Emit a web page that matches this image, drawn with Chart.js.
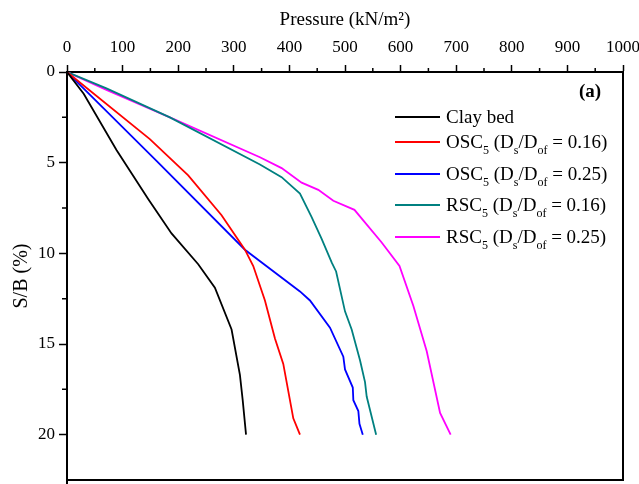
<!DOCTYPE html>
<html><head><meta charset="utf-8">
<script src="https://cdn.jsdelivr.net/npm/chart.js@4.4.1/dist/chart.umd.min.js"></script>
<style>html,body{margin:0;padding:0;background:#fff;}#wrap{width:639px;height:484px;}</style>
</head><body><div id="wrap"><canvas id="c" width="639" height="484"></canvas></div>
<script>
// ---- data (Pressure kN/m2 vs S/B %) ----
const xTickValues = [0,100,200,300,400,500,600,700,800,900,1000];
const xMinorTicks = [50,150,250,350,450,550,650,750,850,950];
const yTickValues = [0,5,10,15,20];
const yMinorTicks = [2.5,7.5,12.5,17.5];

const seriesNames = ["Clay bed","OSC5 (Ds/Dof = 0.16)","OSC5 (Ds/Dof = 0.25)","RSC5 (Ds/Dof = 0.16)","RSC5 (Ds/Dof = 0.25)"];
const seriesColors = ["#000000","#ff0000","#0000ff","#008080","#ff00ff"];

const clayP = [0,30,89,146,188,236,266,296,311,316,322];
const clayS = [0,1.2,4.3,7.0,8.9,10.6,11.9,14.2,16.7,18.1,20];

const osc16P = [0,149,218,278,320,335,356,374,389,407,419];
const osc16S = [0,3.7,5.7,7.9,9.8,10.7,12.6,14.7,16.1,19.1,20];

const osc25P = [0,161,320,419,437,473,497,500,514,515,524,526,532];
const osc25S = [0,4.9,9.8,12.1,12.6,14.1,15.7,16.4,17.4,18.1,18.7,19.4,20];

const rsc16P = [0,71,185,347,386,419,440,458,476,484,500,512,527,536,539,556];
const rsc16S = [0,0.9,2.5,5.1,5.8,6.7,8.0,9.2,10.5,11.0,13.2,14.2,15.9,17.1,17.9,20];

const rsc25P = [0,72,185,347,386,422,452,479,517,566,598,623,647,671,690];
const rsc25S = [0,1.0,2.5,4.7,5.3,6.1,6.5,7.1,7.6,9.4,10.7,12.9,15.4,18.8,20];

const seriesP = [clayP, osc16P, osc25P, rsc16P, rsc25P];
const seriesS = [clayS, osc16S, osc25S, rsc16S, rsc25S];

// legend rich-text parts (subscripts)
function legendParts(name){
  if(name === "Clay bed") return [[name,false]];
  const m = name.match(/^(OSC|RSC)5 \(Ds\/Dof = ([0-9.]+)\)$/);
  return [[m[1],false],["5",true],[" (D",false],["s",true],["/D",false],["of",true],[" = "+m[2]+")",false]];
}

const FONT = "'Liberation Serif', 'Times New Roman', serif";

const datasets = seriesNames.map((n,i)=>({
  label:n,
  data: seriesP[i].map((p,k)=>({x:p,y:seriesS[i][k]})),
  borderColor: seriesColors[i],
  backgroundColor: seriesColors[i],
  borderWidth: 1.8,
  pointRadius: 0,
  showLine: true,
  tension: 0,
  fill: false
}));

const extras = {
  id:'extras',
  afterDraw(chart){
    const ctx = chart.ctx, a = chart.chartArea;
    const xs = chart.scales.x, ys = chart.scales.y;
    ctx.save();
    ctx.strokeStyle = '#000';
    // frame right & bottom
    ctx.lineWidth = 2;
    ctx.beginPath();
    ctx.moveTo(a.right, a.top); ctx.lineTo(a.right, a.bottom);
    ctx.moveTo(a.left-1, a.bottom); ctx.lineTo(a.right+1, a.bottom);
    ctx.moveTo(a.left, a.bottom); ctx.lineTo(a.left, a.bottom+6);
    ctx.stroke();
    // minor ticks
    ctx.lineWidth = 1.5;
    ctx.beginPath();
    xMinorTicks.forEach(v=>{const px = xs.getPixelForValue(v); ctx.moveTo(px,a.top); ctx.lineTo(px,a.top-4);});
    yMinorTicks.forEach(v=>{const py = ys.getPixelForValue(v); ctx.moveTo(a.left,py); ctx.lineTo(a.left-5,py);});
    ctx.stroke();
    // panel tag
    ctx.fillStyle = '#000';
    ctx.font = 'bold 19px ' + FONT;
    ctx.textAlign = 'center'; ctx.textBaseline = 'middle';
    ctx.fillText('(a)', 590, 92);
    // legend
    const rows = [117,142,174,205,237];
    ctx.textAlign = 'left';
    chart.data.datasets.forEach((ds,i)=>{
      const y = rows[i];
      ctx.strokeStyle = ds.borderColor; ctx.lineWidth = 2;
      ctx.beginPath(); ctx.moveTo(395,y); ctx.lineTo(440,y); ctx.stroke();
      let x = 446;
      ctx.fillStyle = '#000';
      legendParts(ds.label).forEach(([t,sub])=>{
        ctx.font = (sub? '12px ' : '19px ') + FONT;
        ctx.textBaseline = 'alphabetic';
        ctx.fillText(t, x, sub ? y+12 : y+6);
        x += ctx.measureText(t).width;
      });
    });
    ctx.restore();
  }
};

new Chart(document.getElementById('c'), {
  type:'scatter',
  data:{datasets},
  options:{
    responsive:false, animation:false, devicePixelRatio:1,
    layout:{padding:{top:0,left:0,right:16,bottom:4}},
    plugins:{legend:{display:false}, tooltip:{enabled:false}},
    scales:{
      x:{
        type:'linear', position:'top', min:0, max:1000,
        afterFit(s){ s.height = 72; s.paddingLeft = 0; s.paddingRight = 0; s.paddingTop = 0; s.paddingBottom = 0; },
        afterBuildTicks(s){ s.ticks = xTickValues.map(v=>({value:v})); },
        ticks:{color:'#000', font:{family:FONT, size:17}, padding:7, maxRotation:0, autoSkip:false,
               callback:(v)=>String(v)},
        grid:{drawOnChartArea:false, drawTicks:true, tickLength:7, tickColor:'#000', tickWidth:1.5},
        border:{display:true, color:'#000', width:2},
        title:{display:true, text:'Pressure (kN/m²)', color:'#000', font:{family:FONT, size:19}, padding:{top:9,bottom:0}}
      },
      y:{
        type:'linear', position:'left', reverse:true, min:0, max:22.5,
        afterFit(s){ s.width = 67; s.paddingLeft = 0; s.paddingRight = 0; s.paddingTop = 0; s.paddingBottom = 0; },
        afterBuildTicks(s){ s.ticks = yTickValues.map(v=>({value:v})); },
        ticks:{color:'#000', font:{family:FONT, size:17}, padding:4, callback:(v)=>String(v)},
        grid:{drawOnChartArea:false, drawTicks:true, tickLength:8, tickColor:'#000', tickWidth:1.5},
        border:{display:true, color:'#000', width:2},
        title:{display:true, text:'S/B (%)', color:'#000', font:{family:FONT, size:20}, padding:{top:10,bottom:0}}
      }
    }
  },
  plugins:[extras]
});
</script>
</body></html>
